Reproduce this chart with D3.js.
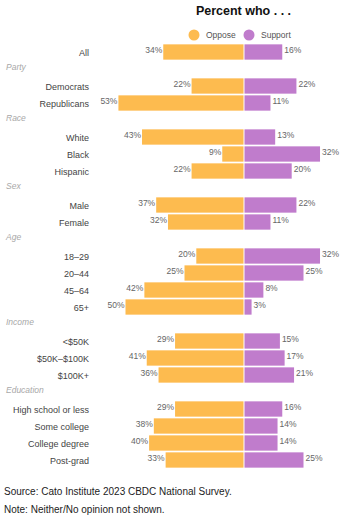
<!DOCTYPE html>
<html>
<head>
<meta charset="utf-8">
<script src="https://cdnjs.cloudflare.com/ajax/libs/d3/7.8.5/d3.min.js"></script>
<style>
  body { margin: 0; background: #fff; }
  svg text { font-family: "Liberation Sans", Arial, sans-serif; }
</style>
</head>
<body>
<script>
// rows top to bottom; groups carry a header line
var groups = ["", "Party", "Race", "Sex", "Age", "Income", "Education"];
var groupRows = [
  ["All"],
  ["Democrats", "Republicans"],
  ["White", "Black", "Hispanic"],
  ["Male", "Female"],
  ["18\u201329", "20\u201344", "45\u201364", "65+"],
  ["<$50K", "$50K\u2013$100K", "$100K+"],
  ["High school or less", "Some college", "College degree", "Post-grad"]
];
var oppose = [34, 22, 53, 43, 9, 22, 37, 32, 20, 25, 42, 50, 29, 41, 36, 29, 38, 40, 33];
var support = [16, 22, 11, 13, 32, 20, 22, 11, 32, 25, 8, 3, 15, 17, 21, 16, 14, 14, 25];

var width = 346, height = 517;
var colOppose = "#fdbb4f", colSupport = "#c07ccc";

// build slot list: headers + category rows
var slots = [], bars = [], k = 0;
groups.forEach(function(g, gi) {
  if (g !== "") slots.push({key: "h" + gi, header: g});
  groupRows[gi].forEach(function(name) {
    var row = {key: "r" + k, name: name, oppose: oppose[k], support: support[k]};
    slots.push(row);
    bars.push(row);
    k++;
  });
});

var svg = d3.select("body").append("svg")
  .attr("width", width)
  .attr("height", height);

var y = d3.scaleBand()
  .domain(slots.map(function(d) { return d.key; }))
  .range([43.5, 43.5 + slots.length * 17])
  .paddingInner(0.1)
  .paddingOuter(0.05);

var center = 243.5;
var x = d3.scaleLinear().domain([0, 10]).range([0, 23.6]);

// title
svg.append("text")
  .attr("x", center)
  .attr("y", 15)
  .attr("text-anchor", "middle")
  .style("font-weight", "bold")
  .style("font-size", "12.5px")
  .style("fill", "#111")
  .text("Percent who . . .");

// legend
var legend = [{label: "Oppose", c: colOppose, x: 194}, {label: "Support", c: colSupport, x: 249}];
legend.forEach(function(l) {
  svg.append("circle").attr("cx", l.x).attr("cy", 35).attr("r", 5.5).style("fill", l.c);
  svg.append("text").attr("x", l.x + 12).attr("y", 38)
    .style("font-size", "8.5px").style("fill", "#555").text(l.label);
});

// group headers
svg.selectAll(".hdr")
  .data(slots.filter(function(d) { return d.header; }))
  .enter().append("text")
  .attr("class", "hdr")
  .attr("x", 6)
  .attr("y", function(d) { return y(d.key) + y.bandwidth() / 2 + 1; })
  .style("font-size", "8.5px")
  .style("font-style", "italic")
  .style("fill", "#a8a8a8")
  .text(function(d) { return d.header; });

// category labels
svg.selectAll(".cat")
  .data(bars)
  .enter().append("text")
  .attr("class", "cat")
  .attr("x", 89)
  .attr("y", function(d) { return y(d.key) + y.bandwidth() / 2 + 3.5; })
  .attr("text-anchor", "end")
  .style("font-size", "9px")
  .style("fill", "#444")
  .text(function(d) { return d.name; });

// oppose bars
svg.selectAll(".opp")
  .data(bars)
  .enter().append("rect")
  .attr("class", "opp")
  .attr("x", function(d) { return center - x(d.oppose); })
  .attr("y", function(d) { return y(d.key); })
  .attr("width", function(d) { return x(d.oppose); })
  .attr("height", y.bandwidth())
  .style("fill", colOppose);

// support bars
svg.selectAll(".sup")
  .data(bars)
  .enter().append("rect")
  .attr("class", "sup")
  .attr("x", center + 1)
  .attr("y", function(d) { return y(d.key); })
  .attr("width", function(d) { return x(d.support); })
  .attr("height", y.bandwidth())
  .style("fill", colSupport);

// value labels
svg.selectAll(".oppv")
  .data(bars)
  .enter().append("text")
  .attr("class", "oppv")
  .attr("x", function(d) { return center - x(d.oppose) - 1; })
  .attr("y", function(d) { return y(d.key) + y.bandwidth() / 2 + 1; })
  .attr("text-anchor", "end")
  .style("font-size", "8.5px")
  .style("fill", "#666")
  .text(function(d) { return d.oppose + "%"; });

svg.selectAll(".supv")
  .data(bars)
  .enter().append("text")
  .attr("class", "supv")
  .attr("x", function(d) { return center + 1 + x(d.support) + 2; })
  .attr("y", function(d) { return y(d.key) + y.bandwidth() / 2 + 1; })
  .style("font-size", "8.5px")
  .style("fill", "#666")
  .text(function(d) { return d.support + "%"; });

// footer
svg.append("text").attr("x", 4).attr("y", 495)
  .style("font-size", "10px").style("fill", "#222")
  .text("Source: Cato Institute 2023 CBDC National Survey.");
svg.append("text").attr("x", 4).attr("y", 513)
  .style("font-size", "10px").style("fill", "#222")
  .text("Note: Neither/No opinion not shown.");
</script>
</body>
</html>
